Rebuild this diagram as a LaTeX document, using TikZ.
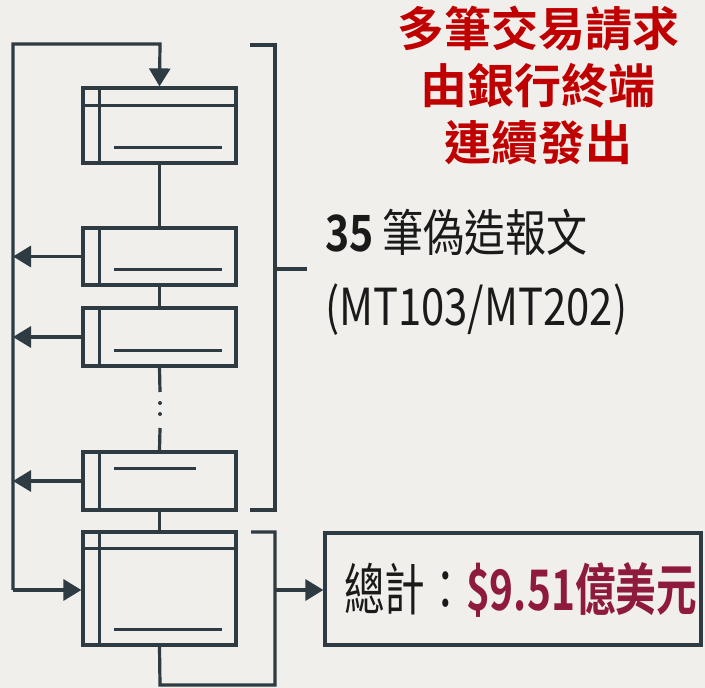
\documentclass[tikz,border=0pt]{standalone}
\usepackage{fontspec}
\usetikzlibrary{arrows.meta}
\newfontfamily\cjkred{Noto Sans CJK TC}[BoldFont={* Bold}]
\newfontfamily\cjkcond{Noto Sans CJK TC}[FakeStretch=0.82, BoldFont={* Bold}]
\newfontfamily\cjktot{Noto Sans CJK TC}[FakeStretch=0.725, BoldFont={* Bold}]
\definecolor{bg}{HTML}{F0EFEB}
\definecolor{ln}{HTML}{2F3B43}
\definecolor{titlered}{HTML}{C00000}
\definecolor{crim}{HTML}{8E1A3E}
\definecolor{ink}{HTML}{1A1A1A}
\tikzset{
  msg/.style={draw=ln, line width=3.2pt, minimum width=153pt, inner sep=0pt, fill=bg},
  conn/.style={draw=ln, line width=3.2pt},
  tip/.style={conn, -{Triangle[length=18pt,width=21pt]}},
  inner/.style={draw=ln, line width=3.2pt},
}
\begin{document}
\begin{tikzpicture}[x=1pt, y=-1pt]
\fill[bg] (0,0) rectangle (705,688);
\useasboundingbox (0,0) rectangle (705,688);

% message boxes
\node[msg, minimum height=75pt]  (b1) at (159.5,125.5) {};
\node[msg, minimum height=57pt]  (b2) at (159.5,256.5) {};
\node[msg, minimum height=58pt]  (b3) at (159.5,337) {};
\node[msg, minimum height=58pt]  (b4) at (159.5,481) {};
\node[msg, minimum height=113pt] (b5) at (159.5,588.5) {};

% inner details
\foreach \b in {b1,b2,b3,b4,b5}{
  \draw[inner] ([xshift=18pt]\b.north west) -- ([xshift=18pt]\b.south west);
}
\draw[inner] ([yshift=-19pt]b1.north west) -- ([yshift=-19pt]b1.north east);
\draw[inner] ([yshift=-18pt]b5.north west) -- ([yshift=-18pt]b5.north east);
\draw[inner] ([xshift=33pt,yshift=17pt]b1.south west) -- ([xshift=-16pt,yshift=17pt]b1.south east);
\draw[inner] ([xshift=33pt,yshift=17pt]b2.south west) -- ([xshift=-16pt,yshift=17pt]b2.south east);
\draw[inner] ([xshift=33pt,yshift=17pt]b3.south west) -- ([xshift=-16pt,yshift=17pt]b3.south east);
\draw[inner] ([xshift=33pt,yshift=-18pt]b4.north west) -- ([xshift=-42pt,yshift=-18pt]b4.north east);
\draw[inner] ([xshift=33pt,yshift=17pt]b5.south west) -- ([xshift=-16pt,yshift=17pt]b5.south east);

% vertical chain
\coordinate (d1) at (160,392);
\coordinate (d2) at (160,428);
\draw[conn] (b1.south) -- (b2.north);
\draw[conn] (b2.south) -- (b3.north);
\draw[conn] (b3.south) -- (d1);
\draw[conn] (d2) -- (b4.north);
\fill[ln] (160,403) circle (2pt);
\fill[ln] (160,414) circle (2pt);
\draw[conn] (b4.south) -- (b5.north);

% left loop
\coordinate (lt) at (13,44);
\coordinate (lb) at (13,590);
\draw[tip] (lb) -- (lt) -- (160,44) -- (b1.north);
\draw[tip] (lb) -- (b5.west |- lb);
\draw[tip] (b2.west) -- (b2.west -| lt);
\draw[tip] (b3.west) -- (b3.west -| lt);
\draw[tip] (b4.west) -- (b4.west -| lt);

% big bracket
\coordinate (k1) at (250,45);
\coordinate (k2) at (250,510);
\draw[conn] (k1) -- (275,45) -- (275,510) -- (k2);
\coordinate (kt) at (307,269);
\draw[conn] (275,269) -- (kt);

% small bracket under total
\coordinate (s1) at (251,532);
\draw[conn] (b5.south) -- (160,685) -- (275,685) -- (275,532) -- (s1);

% total box
\node[draw=ln, line width=3.2pt, minimum width=376pt, minimum height=112pt, inner sep=0pt, fill=bg] (tot) at (513,589) {};
\draw[tip] (275,590) -- (tot.west |- 0,590);
\node[anchor=west, inner sep=0pt, font=\cjktot\fontsize{56pt}{60pt}\selectfont] (totl) at (344,590)
  {\textcolor{ink}{總計：}\textcolor{crim}{\bfseries\$9.51億美元}};

% 35 messages
\node[anchor=west, inner sep=0pt, font=\cjkcond\fontsize{50pt}{56pt}\selectfont, text=ink] (cnt) at (325,232)
  {\textbf{35} 筆偽造報文};
\node[anchor=west, inner sep=0pt, font=\cjkcond\fontsize{51pt}{56pt}\selectfont, text=ink] (mt) at (325,310)
  {(MT103/MT202)};

% title
\node[align=center, inner sep=0pt, font=\cjkred\bfseries\fontsize{47pt}{57pt}\selectfont, text=titlered] (title) at (538,85)
  {多筆交易請求\\由銀行終端\\連續發出};
\end{tikzpicture}
\end{document}
